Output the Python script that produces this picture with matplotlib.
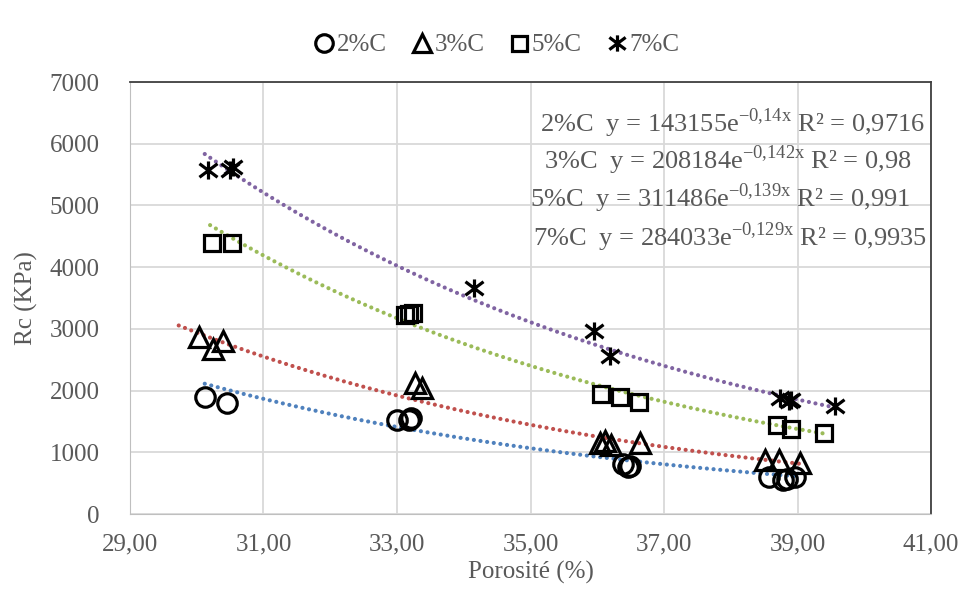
import matplotlib
matplotlib.use('Agg')
import matplotlib.pyplot as plt
from matplotlib.path import Path
import numpy as np

plt.rcParams['font.family'] = ['Liberation Serif', 'DejaVu Serif']
plt.rcParams['mathtext.fontset'] = 'custom'
plt.rcParams['mathtext.rm'] = 'Liberation Serif'

# data
c2_x = [30.12, 30.45, 33.00, 33.18, 33.21, 36.39, 36.46, 36.49, 38.57, 38.78, 38.84, 38.96]
c2_y = [1900, 1800, 1520, 1520, 1560, 810, 760, 780, 600, 550, 560, 600]

c3_x = [30.03, 30.24, 30.39, 33.27, 33.37, 36.04, 36.12, 36.21, 36.64, 38.51, 38.72, 39.04]
c3_y = [2870, 2670, 2800, 2120, 2040, 1150, 1180, 1120, 1150, 870, 870, 830]

c5_x = [30.23, 30.53, 33.12, 33.18, 33.24, 36.06, 36.34, 36.63, 38.69, 38.90, 39.40]
c5_y = [4390, 4390, 3220, 3240, 3260, 1945, 1900, 1815, 1440, 1380, 1310]

c7_x = [30.17, 30.50, 30.54, 34.15, 35.95, 36.19, 38.74, 38.87, 38.90, 39.56]
c7_y = [5575, 5580, 5624, 3663, 2966, 2561, 1880, 1831, 1850, 1750]

labels = ['2%C', '3%C', '5%C', '7%C']
# exponential trendlines y = a*exp(b*x), as printed on the chart
fit_a = [143155, 208184, 311486, 284033]
fit_b = [-0.14, -0.142, -0.139, -0.129]
fit_b_txt = ['-0,14', '-0,142', '-0,139', '-0,129']
r2_txt = ['0,9716', '0,98', '0,991', '0,9935']
fit_range = [(30.12, 38.96), (29.73, 39.04), (30.20, 39.40), (30.12, 39.56)]
trend_colors = ['#4F81BD', '#C0504D', '#9BBB59', '#8064A2']

txt_gray = '#595959'

# excel-like star marker: X + vertical bar
star = Path([(-1, -0.75), (1, 0.75), (-1, 0.75), (1, -0.75), (0, -1), (0, 1)],
            [Path.MOVETO, Path.LINETO] * 3)

fig = plt.figure(figsize=(9.65, 5.93), dpi=100)
ax = fig.add_axes([0.1347, 0.1332, 0.8301, 0.7285])

# trendlines
for a, b, (x0, x1), col in zip(fit_a, fit_b, fit_range, trend_colors):
    xx = np.linspace(x0, x1, 200)
    ax.plot(xx, a * np.exp(b * xx), ls=(0, (0.01, 1.6)), lw=3.0, color=col,
            dash_capstyle='round', zorder=2)

series = [(c2_x, c2_y, 'o', 14), (c3_x, c3_y, '^', 14),
          (c5_x, c5_y, 's', 12), (c7_x, c7_y, star, 13)]
handles = []
for (xs, ys, m, ms), lab in zip(series, labels):
    h, = ax.plot(xs, ys, ls='none', marker=m, ms=ms, mfc='none', mec='black',
                 mew=2.3, label=lab, zorder=3)
    handles.append(h)

ax.set_xlim(29, 41)
ax.set_ylim(0, 7000)
ax.set_xticks(np.arange(29, 41.1, 2))
ax.set_yticks(np.arange(0, 7001, 1000))
ax.set_xticklabels([f'{v:.2f}'.replace('.', ',') for v in np.arange(29, 41.1, 2)])
ax.tick_params(length=0, labelsize=18, labelcolor=txt_gray)
ax.tick_params(axis='y', pad=22)
ax.tick_params(axis='x', pad=14)
ax.grid(True, color='#D9D9D9', lw=1.3)
ax.set_axisbelow(True)
for s in ['left', 'bottom']:
    ax.spines[s].set_color('#BFBFBF')
for s in ['top', 'right']:
    ax.spines[s].set_color('#404040')
    ax.spines[s].set_linewidth(1.3)

ax.set_xlabel('Porosité (%)', fontsize=18, color=txt_gray, labelpad=4)
ax.set_ylabel('Rc (KPa)', fontsize=18, color=txt_gray, labelpad=8)

# equations
eq_y = [123, 160, 198, 237]
eq_x = [925, 912, 910, 927]
for lab, a, bt, r2, ypx, xpx in zip(labels, fit_a, fit_b_txt, r2_txt, eq_y, eq_x):
    s = lab + '  y = ' + str(a) + 'e$^{\\mathregular{' + bt.replace(',', '{,}') + 'x}}$ R² = ' + r2
    fig.text(xpx / 965, 1 - ypx / 593, s, ha='right', va='center',
             fontsize=19, color=txt_gray)

fig.legend(handles=handles, labels=labels, loc='center', ncol=4,
           bbox_to_anchor=(0.515, 0.924), frameon=False, fontsize=18,
           labelcolor=txt_gray, handlelength=0.8, handletextpad=0.1,
           columnspacing=1.0, markerscale=0.9)

fig.savefig('out.png', dpi=100)
